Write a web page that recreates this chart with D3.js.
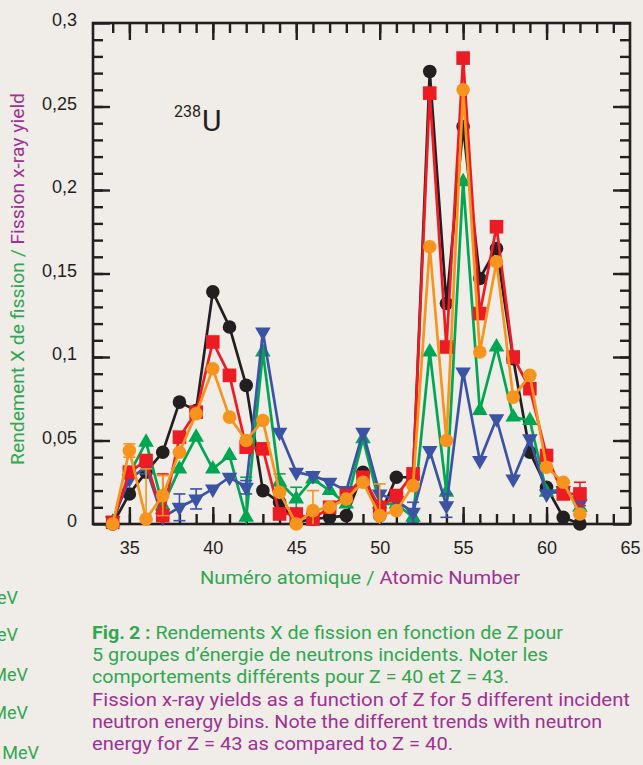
<!DOCTYPE html>
<html>
<head>
<meta charset="utf-8">
<script src="https://cdn.jsdelivr.net/npm/d3@7"></script>
<style>
  body { margin: 0; background: #f0ece8; }
  svg { display: block; font-family: Roboto, "Noto Sans", sans-serif; }
</style>
</head>
<body>
<svg id="chart" width="643" height="765"></svg>
<script>
// atomic numbers
var zValues = [34, 35, 36, 37, 38, 39, 40, 41, 42, 43, 44, 45, 46, 47, 48,
               49, 50, 51, 52, 53, 54, 55, 56, 57, 58, 59, 60, 61, 62];

// yields for each neutron energy group
var blackYield = [0.000, 0.018, 0.031, 0.043, 0.073, 0.068, 0.139, 0.118, 0.083, 0.020, 0.013, 0.001, 0.003, 0.004, 0.005,
                  0.031, 0.005, 0.028, 0.028, 0.271, 0.132, 0.238, 0.147, 0.165, 0.099, 0.043, 0.022, 0.004, 0.000];
var greenYield = [0.001, 0.030, 0.049, 0.011, 0.033, 0.052, 0.033, 0.041, 0.004, 0.103, 0.025, 0.015, 0.027, 0.020, 0.012,
                  0.051, 0.012, 0.012, 0.004, 0.103, 0.019, 0.205, 0.068, 0.106, 0.064, 0.062, 0.019, 0.021, 0.010];
var blueYield  = [0.002, 0.027, 0.034, 0.004, 0.010, 0.015, 0.021, 0.028, 0.022, 0.115, 0.055, 0.031, 0.029, 0.025, 0.020,
                  0.055, 0.018, 0.014, 0.007, 0.044, 0.011, 0.091, 0.038, 0.063, 0.027, 0.051, 0.018, 0.020, 0.012];
var redYield   = [0.001, 0.031, 0.038, 0.005, 0.052, 0.067, 0.109, 0.089, 0.046, 0.045, 0.006, 0.006, 0.003, 0.010, 0.017,
                  0.028, 0.010, 0.017, 0.030, 0.258, 0.106, 0.279, 0.126, 0.178, 0.100, 0.081, 0.041, 0.018, 0.018];
var orangeYield = [0.000, 0.044, 0.003, 0.017, 0.043, 0.066, 0.093, 0.064, 0.050, 0.062, 0.019, 0.000, 0.008, 0.010, 0.015,
                   0.025, 0.005, 0.008, 0.023, 0.166, 0.050, 0.260, 0.103, 0.157, 0.076, 0.089, 0.034, 0.025, 0.006];

// error bars: [Z, error]
var blackErr = [];
var greenErr = [[42, 0.024], [44, 0.005], [45, 0.007]];
var blueErr = [[36, 0.004], [38, 0.008], [39, 0.006], [42, 0.004], [52, 0.006], [54, 0.007]];
var redErr = [[37, 0.025], [62, 0.007]];
var orangeErr = [[35, 0.004], [36, 0.030], [37, 0.012], [46, 0.012], [50, 0.019]];

var xMajorTicks = [35, 40, 45, 50, 55, 60, 65];
var yMajorTicks = [0, 0.05, 0.1, 0.15, 0.2, 0.25, 0.3];

var captionFr = ["Rendements X de fission en fonction de Z pour",
                 "5 groupes d\u2019\u00e9nergie de neutrons incidents. Noter les",
                 "comportements diff\u00e9rents pour Z = 40 et Z = 43."];
var captionEn = ["Fission x-ray yields as a function of Z for 5 different incident",
                 "neutron energy bins. Note the different trends with neutron",
                 "energy for Z = 43 as compared to Z = 40."];
var legendTails = ["MeV", "MeV", "MeV", "MeV", "MeV"];

var INK = "#231f20";
var GREEN_TXT = "#2fa84f";
var PURPLE_TXT = "#9e3192";

var series = [
    {name: "black", values: blackYield, errors: blackErr, color: INK, shape: "circle"},
    {name: "green", values: greenYield, errors: greenErr, color: "#00a651", shape: "up"},
    {name: "blue", values: blueYield, errors: blueErr, color: "#3a53a4", shape: "down"},
    {name: "red", values: redYield, errors: redErr, color: "#ed1c24", shape: "square"},
    {name: "orange", values: orangeYield, errors: orangeErr, color: "#f7941d", shape: "circle"}
];

function drawChart() {
    var svg = d3.select("#chart");

    var pLeft = 93, pRight = 630, pTop = 23, pBottom = 524;
    var x = d3.scaleLinear().domain([32.82, 65]).range([pLeft, pRight]);
    var y = d3.scaleLinear().domain([0, 0.3]).range([pBottom, pTop]);

    function range(a, b, step) {
        var r = [];
        for (var v = a; v <= b + 1e-9; v += step) r.push(+v.toFixed(4));
        return r;
    }

    function styleAxis(g) {
        g.select(".domain").remove();
        g.selectAll(".tick line").attr("stroke", INK).attr("stroke-width", 2.4);
        g.selectAll(".tick text").attr("fill", INK).style("font-size", "18px");
    }

    // minor ticks
    var xMinor = range(34, 64, 1);
    var yMinor = range(0.01, 0.29, 0.01);

    svg.append("g").attr("transform", "translate(0," + pBottom + ")")
        .call(d3.axisBottom(x).tickValues(xMinor).tickSize(-10).tickFormat(""))
        .call(styleAxis);
    svg.append("g").attr("transform", "translate(0," + pTop + ")")
        .call(d3.axisTop(x).tickValues(xMinor).tickSize(-10).tickFormat(""))
        .call(styleAxis);
    svg.append("g").attr("transform", "translate(" + pLeft + ",0)")
        .call(d3.axisLeft(y).tickValues(yMinor).tickSize(-10).tickFormat(""))
        .call(styleAxis);
    svg.append("g").attr("transform", "translate(" + pRight + ",0)")
        .call(d3.axisRight(y).tickValues(yMinor).tickSize(-10).tickFormat(""))
        .call(styleAxis);

    // major ticks
    var fmtComma = function(d) { return String(d).replace(".", ","); };

    svg.append("g").attr("transform", "translate(0," + pBottom + ")")
        .call(d3.axisBottom(x).tickValues(xMajorTicks).tickSize(-17).tickPadding(17).tickFormat(d3.format("d")))
        .call(styleAxis);
    svg.append("g").attr("transform", "translate(0," + pTop + ")")
        .call(d3.axisTop(x).tickValues(xMajorTicks.slice(0, -1)).tickSize(-17).tickFormat(""))
        .call(styleAxis);
    svg.append("g").attr("transform", "translate(" + pLeft + ",0)")
        .call(d3.axisLeft(y).tickValues(yMajorTicks).tickSize(-17).tickPadding(16).tickFormat(fmtComma))
        .call(styleAxis)
        .selectAll(".tick text").attr("dy", "0.15em");
    svg.append("g").attr("transform", "translate(" + pRight + ",0)")
        .call(d3.axisRight(y).tickValues(yMajorTicks).tickSize(-17).tickFormat(""))
        .call(styleAxis);

    // frame
    svg.append("rect")
        .attr("x", pLeft).attr("y", pTop)
        .attr("width", pRight - pLeft).attr("height", pBottom - pTop)
        .attr("fill", "none").attr("stroke", INK).attr("stroke-width", 2.6);

    // series
    var line = d3.line().x(function(d) { return x(d[0]); }).y(function(d) { return y(d[1]); });
    var triUp = d3.symbol().type(d3.symbolTriangle).size(105)();

    series.forEach(function(s) {
        var pts = zValues.map(function(z, i) { return [z, s.values[i]]; });
        var g = svg.append("g").attr("class", "series-" + s.name);

        g.selectAll("g.err").data(s.errors).enter().append("g").attr("class", "err")
            .each(function(e) {
                var v = s.values[zValues.indexOf(e[0])];
                var lo = Math.max(0, v - e[1]), hi = v + e[1];
                var eg = d3.select(this).attr("stroke", s.color).attr("stroke-width", 1.6);
                eg.append("line").attr("x1", x(e[0])).attr("x2", x(e[0])).attr("y1", y(lo)).attr("y2", y(hi));
                eg.append("line").attr("x1", x(e[0]) - 6).attr("x2", x(e[0]) + 6).attr("y1", y(hi)).attr("y2", y(hi));
                if (v - e[1] > 0)
                    eg.append("line").attr("x1", x(e[0]) - 6).attr("x2", x(e[0]) + 6).attr("y1", y(lo)).attr("y2", y(lo));
            });

        g.append("path").datum(pts)
            .attr("d", line)
            .attr("fill", "none")
            .attr("stroke", s.color)
            .attr("stroke-width", 2.7)
            .attr("stroke-linejoin", "round");

        var m = g.selectAll(".pt").data(pts).enter();
        if (s.shape == "circle") {
            m.append("circle").attr("class", "pt")
                .attr("cx", function(d) { return x(d[0]); })
                .attr("cy", function(d) { return y(d[1]); })
                .attr("r", 6.8).attr("fill", s.color);
        } else if (s.shape == "square") {
            m.append("rect").attr("class", "pt")
                .attr("x", function(d) { return x(d[0]) - 6.8; })
                .attr("y", function(d) { return y(d[1]) - 6.8; })
                .attr("width", 13.6).attr("height", 13.6).attr("fill", s.color);
        } else {
            m.append("path").attr("class", "pt")
                .attr("d", triUp)
                .attr("transform", function(d) {
                    return "translate(" + x(d[0]) + "," + y(d[1]) + ")" + (s.shape == "down" ? " rotate(180)" : "");
                })
                .attr("fill", s.color);
        }
    });

    // isotope label
    var iso = svg.append("text").attr("x", 174).attr("y", 131).attr("fill", INK);
    iso.append("tspan").attr("dy", -14).style("font-size", "16px").text("238");
    iso.append("tspan").attr("dy", 14).attr("dx", 1).style("font-size", "30px").text("U");

    // axis titles
    var xt = svg.append("text").attr("x", 200).attr("y", 584)
        .attr("textLength", 320).attr("lengthAdjust", "spacingAndGlyphs").style("font-size", "18px");
    xt.append("tspan").attr("fill", GREEN_TXT).text("Num\u00e9ro atomique / ");
    xt.append("tspan").attr("fill", PURPLE_TXT).text("Atomic Number");

    var yt = svg.append("text").attr("transform", "translate(24,465) rotate(-90)")
        .attr("textLength", 372).attr("lengthAdjust", "spacingAndGlyphs").style("font-size", "18px");
    yt.append("tspan").attr("fill", GREEN_TXT).text("Rendement X de fission / ");
    yt.append("tspan").attr("fill", PURPLE_TXT).text("Fission x-ray yield");

    // caption
    var capEnds = [563, 548, 509, 630, 602, 453];
    var cap = svg.append("g").style("font-size", "18px");
    var first = cap.append("text").attr("x", 92).attr("y", 639)
        .attr("textLength", capEnds[0] - 92).attr("lengthAdjust", "spacingAndGlyphs");
    first.append("tspan").attr("fill", GREEN_TXT).style("font-weight", "bold").text("Fig.\u20092 : ");
    first.append("tspan").attr("fill", GREEN_TXT).text(captionFr[0]);
    captionFr.slice(1).forEach(function(t, i) {
        cap.append("text").attr("x", 92).attr("y", 661 + i * 22.2).attr("fill", GREEN_TXT)
            .attr("textLength", capEnds[i + 1] - 92).attr("lengthAdjust", "spacingAndGlyphs").text(t);
    });
    captionEn.forEach(function(t, i) {
        cap.append("text").attr("x", 92).attr("y", 705.5 + i * 22.3).attr("fill", PURPLE_TXT)
            .attr("textLength", capEnds[i + 3] - 92).attr("lengthAdjust", "spacingAndGlyphs").text(t);
    });

    // legend at left edge, only its tail is inside the picture
    var tailX = [18, 18, 28, 28, 39];
    var tailY = [604, 641, 681, 719, 759];
    legendTails.forEach(function(t, i) {
        svg.append("text").attr("x", tailX[i]).attr("y", tailY[i])
            .attr("text-anchor", "end").attr("fill", GREEN_TXT)
            .style("font-size", "18px").text(t);
    });
}

drawChart();
</script>
</body>
</html>
